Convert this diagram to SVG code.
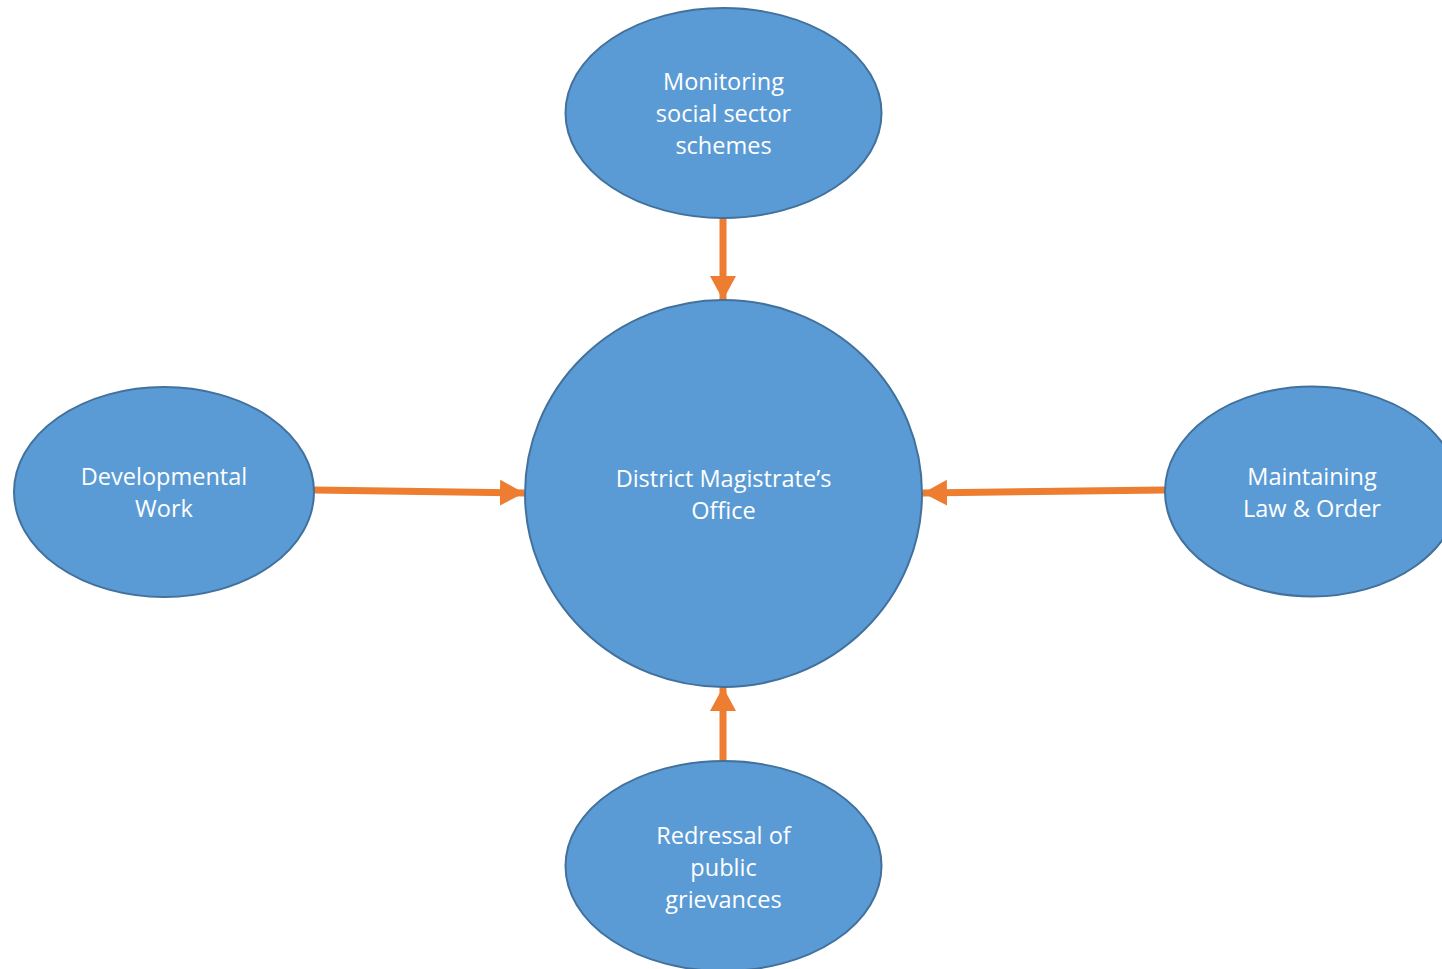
<svg xmlns="http://www.w3.org/2000/svg" width="1442" height="969" viewBox="0 0 1442 969">
<style>
.n{fill:#5B9BD5;stroke:#41719C;stroke-width:2}
.t{fill:#fff;font-family:"Open Sans","Liberation Sans",sans-serif;font-size:23.5px;text-anchor:middle}
.c{stroke:#ED7D31;stroke-width:7;fill:none;marker-end:url(#ah)}
</style>
<defs>
<marker id="ah" markerUnits="userSpaceOnUse" markerWidth="26" markerHeight="28" refX="24" refY="13" orient="auto">
<path d="M0,0 L24,13 L0,26 Z" fill="#ED7D31"/>
</marker>
</defs>
<rect width="1442" height="969" fill="#fff"/>
<g id="connectors">
<line class="c" x1="723" y1="218" x2="723" y2="300"/>
<line class="c" x1="314" y1="490" x2="524" y2="493"/>
<line class="c" x1="1165" y1="490" x2="923" y2="493"/>
<line class="c" x1="723" y1="762" x2="723" y2="687"/>
</g>
<g id="center">
<ellipse class="n" cx="723.5" cy="493.5" rx="198.5" ry="193.5"/>
<text class="t" x="723.5" y="487">District Magistrate’s</text>
<text class="t" x="723.5" y="519">Office</text>
</g>
<g id="top">
<ellipse class="n" cx="723.5" cy="113" rx="158" ry="105"/>
<text class="t" x="723.5" y="90">Monitoring</text>
<text class="t" x="723.5" y="122">social sector</text>
<text class="t" x="723.5" y="154">schemes</text>
</g>
<g id="left">
<ellipse class="n" cx="164" cy="492" rx="150" ry="105"/>
<text class="t" x="164" y="485">Developmental</text>
<text class="t" x="164" y="517">Work</text>
</g>
<g id="right">
<ellipse class="n" cx="1312" cy="491.5" rx="147" ry="105"/>
<text class="t" x="1312" y="485">Maintaining</text>
<text class="t" x="1312" y="517">Law &amp; Order</text>
</g>
<g id="bottom">
<ellipse class="n" cx="723.5" cy="866" rx="158" ry="105"/>
<text class="t" x="723.5" y="844">Redressal of</text>
<text class="t" x="723.5" y="876">public</text>
<text class="t" x="723.5" y="908">grievances</text>
</g>
</svg>
